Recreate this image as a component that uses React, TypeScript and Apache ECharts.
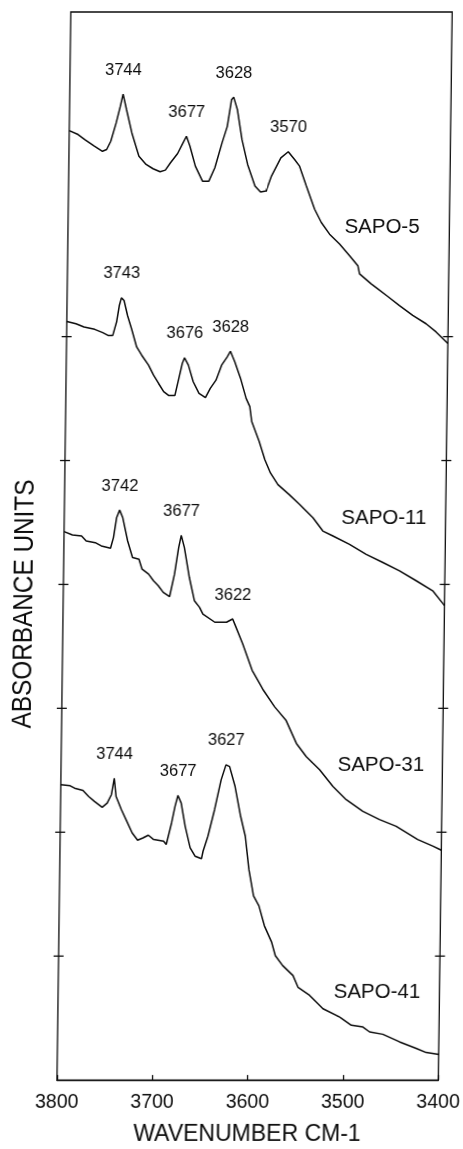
import React, { useEffect, useRef } from "react";
import * as echarts from "echarts";

// Wavenumber axis (cm-1), drawn high to low
const WN_MIN = 3400;
const WN_MAX = 3800;
const WN_TICK = 100;
// Absorbance axis: stacked spectra, tick marks every unit
const ABS_MAX = 8.62;
const ABS_TICKS = [1, 2, 3, 4, 5, 6];

// SAPO-5
const sapo5Wn = [3800, 3790.7, 3783.6, 3773.5, 3764.9, 3760.5, 3756.3, 3750.9, 3746.8, 3744, 3740.2, 3734.3, 3726.6, 3719, 3711.6, 3704.2, 3698.7, 3693.4, 3686, 3680.5, 3677, 3673.2, 3667.3, 3659.6, 3652.9, 3646.8, 3639.6, 3634.3, 3630.2, 3628, 3623.9, 3618.7, 3612.5, 3604.5, 3598.6, 3592.8, 3587.3, 3577.7, 3570, 3563.3, 3558, 3550.6, 3541.6, 3534.4, 3525.6, 3515, 3504.3, 3495.5, 3493.6, 3481.3, 3474.3, 3463.7, 3451.3, 3437.3, 3423.2, 3412.6, 3400];
const sapo5Abs = [7.663, 7.631, 7.59, 7.537, 7.496, 7.51, 7.577, 7.725, 7.858, 7.957, 7.831, 7.644, 7.456, 7.39, 7.355, 7.331, 7.344, 7.403, 7.478, 7.564, 7.617, 7.537, 7.376, 7.255, 7.255, 7.363, 7.564, 7.697, 7.912, 7.933, 7.831, 7.59, 7.39, 7.215, 7.167, 7.175, 7.296, 7.443, 7.492, 7.43, 7.376, 7.215, 7.028, 6.921, 6.827, 6.747, 6.653, 6.573, 6.506, 6.426, 6.386, 6.324, 6.251, 6.171, 6.104, 6.038, 5.944];
const sapo5Peaks = [3744, 3677, 3628, 3570];

// SAPO-11
const sapo11Wn = [3800, 3790.4, 3781.9, 3770.7, 3762.2, 3756.6, 3751.6, 3747.8, 3745.1, 3743, 3740.2, 3736.4, 3732, 3726.4, 3721, 3713.7, 3708.3, 3702.9, 3697.5, 3692, 3685.7, 3681.7, 3678.3, 3676, 3671.9, 3666.6, 3660.4, 3653.6, 3648.6, 3642.7, 3637, 3631.2, 3628, 3623.3, 3617, 3610.9, 3606.9, 3604.7, 3596.6, 3590.4, 3584.4, 3576.4, 3564.4, 3553.3, 3539.2, 3528.6, 3518, 3500.5, 3482.9, 3465.3, 3447.7, 3430.1, 3412.6, 3400];
const sapo11Abs = [6.123, 6.104, 6.078, 6.059, 6.032, 6.01, 6.01, 6.118, 6.251, 6.313, 6.292, 6.171, 6.064, 5.917, 5.85, 5.77, 5.689, 5.622, 5.556, 5.524, 5.524, 5.663, 5.783, 5.829, 5.77, 5.636, 5.542, 5.508, 5.582, 5.649, 5.77, 5.837, 5.882, 5.797, 5.663, 5.502, 5.435, 5.315, 5.154, 5.006, 4.9, 4.806, 4.725, 4.645, 4.538, 4.431, 4.391, 4.324, 4.243, 4.177, 4.11, 4.03, 3.949, 3.829];
const sapo11Peaks = [3743, 3676, 3628];

// SAPO-31
const sapo31Wn = [3800, 3791.2, 3781.6, 3776.7, 3767.2, 3760.8, 3751.1, 3748.1, 3745.1, 3742, 3738.6, 3733.2, 3727.9, 3721.1, 3717.7, 3710.8, 3705.6, 3700.5, 3695.2, 3688.5, 3683.6, 3679.6, 3677, 3673.6, 3668, 3662.4, 3656.9, 3653.3, 3640.7, 3628.4, 3622, 3619.1, 3611.1, 3600.9, 3588.8, 3576.8, 3564.8, 3553.5, 3542.9, 3528.8, 3514.6, 3500.5, 3482.9, 3465.3, 3447.7, 3424.9, 3409.1, 3400];
const sapo31Abs = [4.426, 4.399, 4.391, 4.351, 4.337, 4.311, 4.292, 4.378, 4.538, 4.6, 4.538, 4.351, 4.217, 4.203, 4.123, 4.083, 4.03, 3.99, 3.936, 3.901, 4.083, 4.297, 4.396, 4.297, 4.056, 3.869, 3.815, 3.761, 3.695, 3.695, 3.721, 3.668, 3.52, 3.307, 3.146, 3.012, 2.905, 2.717, 2.61, 2.504, 2.369, 2.263, 2.169, 2.102, 2.048, 1.941, 1.888, 1.855];
const sapo31Peaks = [3742, 3677, 3622];

// SAPO-41
const sapo41Wn = [3800, 3790.2, 3785.6, 3776.7, 3770.7, 3764.6, 3756.3, 3751.1, 3746.8, 3744, 3741.9, 3736.1, 3730.3, 3724.5, 3718.7, 3713.1, 3707.5, 3701.9, 3691.4, 3688.6, 3683.3, 3679.9, 3677, 3673.5, 3669, 3663.5, 3658.3, 3651.5, 3649.9, 3645, 3638.4, 3631.9, 3627, 3623.2, 3617.2, 3611, 3605.8, 3601.6, 3596.4, 3590.6, 3584.6, 3576.7, 3572.7, 3564.9, 3553.9, 3548.5, 3536.2, 3522.1, 3504.4, 3492.1, 3479.9, 3472.8, 3458.9, 3441.3, 3423.7, 3413.2, 3400];
const sapo41Abs = [2.383, 2.375, 2.356, 2.337, 2.289, 2.249, 2.201, 2.235, 2.303, 2.436, 2.289, 2.182, 2.088, 1.994, 1.936, 1.954, 1.976, 1.941, 1.928, 1.901, 2.075, 2.209, 2.297, 2.235, 2.048, 1.874, 1.807, 1.786, 1.847, 1.968, 2.182, 2.423, 2.544, 2.53, 2.369, 2.129, 1.968, 1.7, 1.486, 1.406, 1.245, 1.111, 1.004, 0.924, 0.843, 0.749, 0.683, 0.576, 0.508, 0.442, 0.428, 0.388, 0.369, 0.308, 0.255, 0.222, 0.206];
const sapo41Peaks = [3744, 3677, 3627];

const SAMPLE_NAMES = ["SAPO-5", "SAPO-11", "SAPO-31", "SAPO-41"];

const FONT = "'Liberation Sans', Arial, Helvetica, sans-serif";
const INK = "#0c0c0c";

const spectra = [
  { name: SAMPLE_NAMES[0], wn: sapo5Wn, abs: sapo5Abs, peaks: sapo5Peaks },
  { name: SAMPLE_NAMES[1], wn: sapo11Wn, abs: sapo11Abs, peaks: sapo11Peaks },
  { name: SAMPLE_NAMES[2], wn: sapo31Wn, abs: sapo31Abs, peaks: sapo31Peaks },
  { name: SAMPLE_NAMES[3], wn: sapo41Wn, abs: sapo41Abs, peaks: sapo41Peaks },
];

// sample name placement (px)
const nameSpots = [
  [371, 225],
  [376.6, 516],
  [376.8, 763],
  [375.8, 990],
];

function absAt(wn: number[], abs: number[], w: number): number {
  const i = wn.indexOf(w);
  return i >= 0 ? abs[i] : 0;
}

export default function App() {
  const ref = useRef<HTMLDivElement>(null);

  useEffect(() => {
    if (!ref.current) return;
    const chart = echarts.init(ref.current, undefined, { renderer: "svg" });

    const lineSeries = spectra.map((s) => ({
      type: "line",
      name: s.name,
      data: s.wn.map((w, i) => [w, s.abs[i]]),
      showSymbol: false,
      smooth: false,
      silent: true,
      lineStyle: { color: INK, width: 1.5 },
      markPoint: {
        symbol: "circle",
        symbolSize: 0,
        silent: true,
        itemStyle: { color: "transparent" },
        label: {
          show: true,
          position: "top",
          distance: 17,
          fontSize: 16.5,
          fontFamily: FONT,
          color: INK,
          formatter: (p: any) => p.name,
        },
        data: s.peaks.map((w) => ({
          name: String(w),
          coord: [w, absAt(s.wn, s.abs, w)],
        })),
      },
    }));

    const tickSeries = {
      type: "custom",
      silent: true,
      clip: false,
      data: ABS_TICKS.map((v) => [WN_MAX, v]),
      renderItem: (_params: any, api: any) => {
        const v = api.value(1);
        const l = api.coord([WN_MAX, v]);
        const r = api.coord([WN_MIN, v]);
        const style = { stroke: INK, lineWidth: 1.3 };
        return {
          type: "group",
          children: [
            { type: "line", shape: { x1: l[0] - 5, y1: l[1], x2: l[0] + 5, y2: l[1] }, style },
            { type: "line", shape: { x1: r[0] - 5, y1: r[1], x2: r[0] + 5, y2: r[1] }, style },
          ],
        };
      },
    };

    chart.setOption({
      animation: false,
      backgroundColor: "#ffffff",
      textStyle: { fontFamily: FONT, color: INK },
      grid: {
        left: 56.93,
        right: 24.07,
        top: 12,
        bottom: 64,
        show: true,
        borderColor: INK,
        borderWidth: 1.3,
        backgroundColor: "transparent",
      },
      xAxis: {
        type: "value",
        min: WN_MIN,
        max: WN_MAX,
        interval: WN_TICK,
        inverse: true,
        axisLine: { show: true, lineStyle: { color: INK, width: 1.3 } },
        axisTick: { show: true, inside: true, length: 5, lineStyle: { color: INK, width: 1.3 } },
        axisLabel: {
          fontSize: 19.5,
          color: INK,
          fontFamily: FONT,
          margin: 11,
          showMinLabel: true,
          showMaxLabel: true,
          formatter: (v: number) => String(v),
        },
        splitLine: { show: false },
        name: "WAVENUMBER CM-1",
        nameLocation: "middle",
        nameGap: 41,
        nameTextStyle: { fontSize: 23, color: INK, fontFamily: FONT },
      },
      yAxis: {
        type: "value",
        min: 0,
        max: ABS_MAX,
        interval: 1,
        axisLine: { show: false },
        axisTick: { show: false },
        axisLabel: { show: false },
        splitLine: { show: false },
      },
      graphic: [
        ...spectra.map((s, i) => ({
          type: "text",
          x: nameSpots[i][0],
          y: nameSpots[i][1],
          silent: true,
          style: {
            text: s.name,
            font: `20.5px ${FONT}`,
            fill: INK,
            align: "center",
            verticalAlign: "middle",
            textAlign: "center",
            textVerticalAlign: "middle",
          },
        })),
        {
          type: "text",
          x: 16.8,
          y: 604,
          rotation: Math.PI / 2,
          scaleX: 0.87,
          silent: true,
          style: {
            text: "ABSORBANCE UNITS",
            font: `28px ${FONT}`,
            fill: INK,
            align: "center",
            verticalAlign: "middle",
            textAlign: "center",
            textVerticalAlign: "middle",
          },
        },
      ],
      series: [...lineSeries, tickSeries],
    });

    return () => chart.dispose();
  }, []);

  return (
    <div
      style={{
        position: "fixed",
        left: 0,
        top: 0,
        width: 463,
        height: 1149,
        background: "#ffffff",
        transform: "skewX(-0.7408deg)",
        transformOrigin: "0 1085px",
      }}
    >
      <div ref={ref} style={{ width: 463, height: 1149 }} />
    </div>
  );
}
